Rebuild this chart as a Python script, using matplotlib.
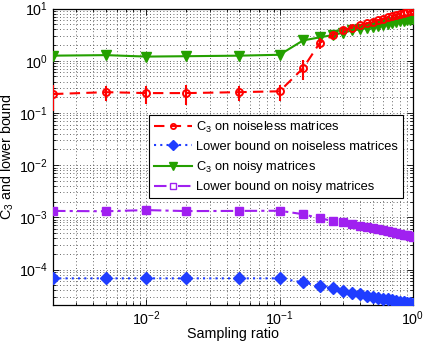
import matplotlib
matplotlib.use("Agg")
import matplotlib.pyplot as plt
from matplotlib.lines import Line2D

plt.rcParams['font.family'] = ['Liberation Sans', 'DejaVu Sans']
plt.rcParams['mathtext.fontset'] = 'custom'
plt.rcParams['mathtext.rm'] = 'Liberation Sans'
plt.rcParams['mathtext.it'] = 'Liberation Sans:italic'
plt.rcParams['mathtext.default'] = 'regular'

# Sampling ratios
ratio = [0.002, 0.005, 0.01, 0.02, 0.05, 0.1, 0.15, 0.2, 0.25, 0.3, 0.35, 0.4,
         0.45, 0.5, 0.55, 0.6, 0.65, 0.7, 0.75, 0.8, 0.85, 0.9, 0.95, 1.0]

c3_noiseless = [0.23, 0.25, 0.24, 0.24, 0.25, 0.26, 0.72, 2.2, 3.05, 3.8, 4.3, 4.8,
                5.2, 5.6, 6.0, 6.4, 6.8, 7.1, 7.5, 7.9, 8.2, 8.5, 8.8, 9.1]
c3_noiseless_err = [0.12, 0.08, 0.09, 0.1, 0.08, 0.09, 0.3, 0.5, 0.4, 0.4, 0.3, 0.3,
                    0.3, 0.3, 0.3, 0.3, 0.3, 0.3, 0.3, 0.3, 0.3, 0.3, 0.3, 0.3]
lb_noiseless = [6.8e-5, 6.8e-5, 6.8e-5, 6.8e-5, 6.8e-5, 6.8e-5, 5.7e-5, 4.8e-5,
                4.4e-5, 3.85e-5, 3.55e-5, 3.35e-5, 3.17e-5, 3.02e-5, 2.9e-5, 2.78e-5,
                2.68e-5, 2.58e-5, 2.5e-5, 2.44e-5, 2.37e-5, 2.31e-5, 2.25e-5, 2.19e-5]
c3_noisy = [1.25, 1.28, 1.2, 1.22, 1.25, 1.3, 2.45, 2.8, 3.1, 3.45, 3.8, 4.0,
            4.25, 4.5, 4.7, 4.9, 5.1, 5.3, 5.5, 5.65, 5.8, 5.95, 6.1, 6.25]
lb_noisy = [1.33e-3, 1.31e-3, 1.38e-3, 1.32e-3, 1.33e-3, 1.34e-3, 1.15e-3, 9.6e-4,
            8.6e-4, 8.0e-4, 7.4e-4, 6.9e-4, 6.6e-4, 6.2e-4, 5.9e-4, 5.7e-4,
            5.45e-4, 5.25e-4, 5.05e-4, 4.85e-4, 4.7e-4, 4.55e-4, 4.4e-4, 4.25e-4]

labels = ['C$_3$ on noiseless matrices', 'Lower bound on noiseless matrices',
          'C$_3$ on noisy matrices', 'Lower bound on noisy matrices']

red = '#ff0000'
blue = '#1f3dff'
green = '#24a000'
purple = '#a020f0'

fig = plt.figure(figsize=(4.29, 3.46), dpi=100)
ax = fig.add_axes([53 / 429, 41 / 346, 360 / 429, 296.5 / 346])
ax.set_xscale('log')
ax.set_yscale('log')

red_ls = (0, (5, 3))
ax.errorbar(ratio, c3_noiseless, yerr=c3_noiseless_err, color=red, ls=red_ls,
            lw=1.5, marker='o', ms=5, mfc='none', mew=1.4, elinewidth=1.5,
            capsize=0, zorder=5)
h2, = ax.plot(ratio, lb_noiseless, color=blue, ls=(0, (1, 2)), lw=1.5, marker='D',
              ms=6.5, mfc=blue, mec=blue, label=labels[1], zorder=3)
h3, = ax.plot(ratio, c3_noisy, color=green, ls='-', lw=1.5, marker='v', ms=7,
              mfc=green, mec=green, label=labels[2], zorder=4)
h4, = ax.plot(ratio, lb_noisy, color=purple, ls=(0, (6, 2, 1.5, 2)), lw=1.5, marker='s',
              ms=6, mfc=purple, mec=purple, label=labels[3], zorder=3)
h1 = Line2D([], [], color=red, ls=red_ls, lw=1.5, marker='o', ms=5, mfc='none', mew=1.3)

ax.set_xlim(0.002, 1)
ax.set_ylim(2.1e-5, 10)

ax.grid(True, which='both', color='#333333', ls=(0, (1, 3)), lw=0.6)
ax.set_axisbelow(True)
ax.tick_params(which='both', direction='in', top=True, right=True, labelsize=10.3)
ax.tick_params(which='major', length=4, width=0.6)
ax.tick_params(which='minor', length=2, width=0.6)
for s in ax.spines.values():
    s.set_linewidth(0.9)

ax.set_xlabel('Sampling ratio', fontsize=10.3)
ax.xaxis.set_label_coords(0.5, -0.075)
ax.set_ylabel('C$_3$ and lower bound', fontsize=10.3, labelpad=2)

leg = ax.legend(handles=[h1, h2, h3, h4], labels=labels, loc='upper left',
                bbox_to_anchor=((149 - 53) / 360, (305 - 115) / 296.5),
                fontsize=9.3, frameon=True, fancybox=False, edgecolor='black',
                framealpha=1, borderpad=0.35, labelspacing=0.48, handlelength=3.0,
                handletextpad=0.3, borderaxespad=0, markerscale=0.75)
leg.get_frame().set_linewidth(0.8)
leg.legend_handles[3].set_markerfacecolor('white')

fig.savefig('out.png', dpi=100)
